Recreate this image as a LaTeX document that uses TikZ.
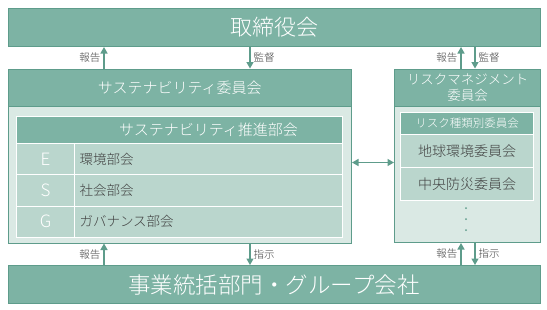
\documentclass[tikz,border=0pt]{standalone}
\usepackage{fontspec}
\setmainfont{Noto Sans CJK JP}[UprightFont=* Light]
\usetikzlibrary{arrows.meta}
\definecolor{Sage}{HTML}{7DB3A4}
\definecolor{SageDark}{HTML}{5E9C8B}
\definecolor{SageLight}{HTML}{DAE9E4}
\definecolor{SageRow}{HTML}{BAD6CD}
\definecolor{Ink}{HTML}{404040}
\tikzset{
  band/.style={draw=SageDark,fill=Sage,line width=1pt,text=white,
               inner sep=0pt,anchor=north west},
  panel/.style={draw=SageDark,fill=SageLight,line width=1pt,
                inner sep=0pt,anchor=north west},
  cellhd/.style={draw=white,fill=Sage,line width=1pt,text=white,
                 inner sep=0pt,anchor=north west},
  cell/.style={draw=white,fill=SageRow,line width=1pt,text=Ink,
               inner sep=0pt,anchor=north west},
  flow/.style={-{Triangle[length=6.5pt,width=7pt]},draw=SageDark,line width=1.3pt},
  both/.style={{Triangle[length=6.5pt,width=7pt]}-{Triangle[length=6.5pt,width=7pt]},
               draw=SageDark,line width=1.3pt},
  tag/.style={font=\fontsize{10.5}{12}\selectfont,text=Ink,inner sep=3pt}
}
\begin{document}
\begin{tikzpicture}[x=1pt,y=-1pt]
    \useasboundingbox[fill=white] (0,0) rectangle (547,309);
    % top and bottom bands
    \node[band,minimum width=532pt,minimum height=38.5pt,
          font=\fontsize{22}{24}\selectfont]
      (board) at (7.5,7.5) {取締役会};
    \node[band,minimum width=532pt,minimum height=38pt,
          font=\fontsize{22.5}{24}\selectfont]
      (group) at (7.5,265) {事業統括部門・グループ会社};
    % sustainability committee
    \node[panel,minimum width=343.5pt,minimum height=174pt]
      (sus) at (7.5,68.5) {};
    \node[band,minimum width=343.5pt,minimum height=37.5pt,
          font=\fontsize{15}{17}\selectfont]
      (sushd) at (7.5,68.5) {サステナビリティ委員会};
    \node[cellhd,minimum width=326pt,minimum height=27pt,
          font=\fontsize{15}{17}\selectfont]
      (prom) at (16,116) {\hspace*{58pt}サステナビリティ推進部会};
    \foreach \n/\l/\t [count=\i from 0] in {env/E/環境部会,soc/S/社会部会,gov/G/ガバナンス部会} {
      \node[cell,minimum width=58pt,minimum height=31.3pt,text=white,
            font=\fontsize{17}{19}\selectfont]
        (\n l) at (16,143+31.3*\i) {\l};
      \node[cell,minimum width=268pt,minimum height=31.3pt,text width=258pt,
            align=left,font=\fontsize{13.5}{15}\selectfont]
        (\n) at (74,143+31.3*\i) {\t};
    }
    % risk management committee
    \node[panel,minimum width=146pt,minimum height=173.5pt]
      (risk) at (394,68.5) {};
    \node[band,minimum width=146pt,minimum height=37pt,align=center,
          font=\fontsize{13.5}{16}\selectfont]
      (riskhd) at (394,68.5) {リスクマネジメント\\委員会};
    \node[cellhd,minimum width=133pt,minimum height=22pt,
          font=\fontsize{11.5}{13}\selectfont]
      (kind) at (400,112) {リスク種類別委員会};
    \node[cell,minimum width=133pt,minimum height=33pt,
          font=\fontsize{14}{16}\selectfont]
      (earth) at (400,134) {地球環境委員会};
    \node[cell,minimum width=133pt,minimum height=33pt,
          font=\fontsize{14}{16}\selectfont]
      (quake) at (400,167) {中央防災委員会};
    \foreach \y in {208,219,230}
      \fill[SageDark] (466,\y) circle (1pt);
    % anchors for the vertical links
    \coordinate (lup) at (104,0);
    \coordinate (ldn) at (250,0);
    \coordinate (rup) at (461,0);
    \coordinate (rdn) at (475,0);
    \draw[flow] (sus.north -| lup) -- (board.south -| lup)
      node[midway,left,tag]{報告};
    \draw[flow] (board.south -| ldn) -- (sus.north -| ldn)
      node[midway,right,tag]{監督};
    \draw[flow] (risk.north -| rup) -- (board.south -| rup)
      node[midway,left,tag]{報告};
    \draw[flow] (board.south -| rdn) -- (risk.north -| rdn)
      node[midway,right,tag]{監督};
    \draw[flow] (group.north -| lup) -- (sus.south -| lup)
      node[midway,left,tag]{報告};
    \draw[flow] (sus.south -| ldn) -- (group.north -| ldn)
      node[midway,right,tag]{指示};
    \draw[flow] (group.north -| rup) -- (risk.south -| rup)
      node[midway,left,tag]{報告};
    \draw[flow] (risk.south -| rdn) -- (group.north -| rdn)
      node[midway,right,tag]{指示};
    % link between the two committees
    \coordinate (mid) at (0,162.5);
    \draw[both] (sus.east |- mid) -- (risk.west |- mid);
\end{tikzpicture}
\end{document}
